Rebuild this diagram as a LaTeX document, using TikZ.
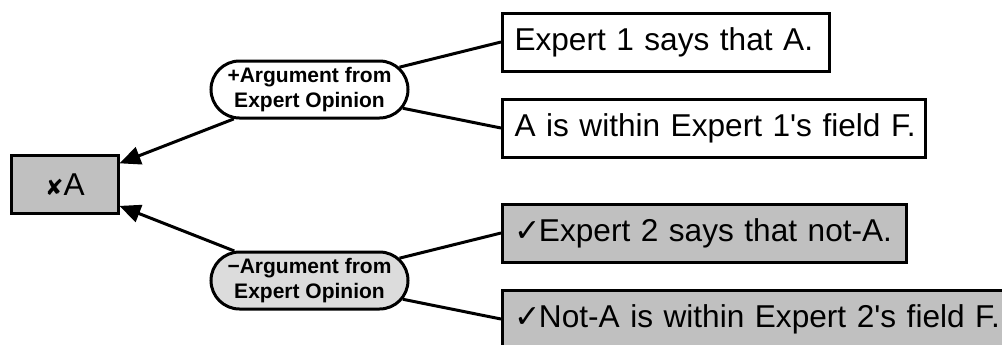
\documentclass[tikz,border=0pt]{standalone}
\usepackage{fontspec}
\setmainfont{Liberation Sans}[Ligatures=NoCommon]
\newfontfamily\symfont{DejaVu Sans}
\usetikzlibrary{shapes.misc,arrows.meta}
\definecolor{boxgray}{RGB}{192,192,192}
\definecolor{arggray}{RGB}{220,220,220}
\begin{document}
\begin{tikzpicture}[x=1bp,y=-1bp,
  claim/.style={rectangle, draw=black, line width=3bp, minimum height=58bp, inner xsep=12bp, inner ysep=0pt, align=left, anchor=west, font=\fontsize{31.6bp}{36bp}\selectfont},
  argnode/.style={rounded rectangle, draw=black, line width=3bp, minimum width=197bp, minimum height=57bp, inner sep=0pt, align=center, font=\bfseries\fontsize{21bp}{25bp}\selectfont},
  conn/.style={line width=3bp},
  arr/.style={conn, -{Triangle[length=21bp,width=18bp]}}
]
\useasboundingbox (0,0) rectangle (1002,344);
\node[claim, fill=boxgray, minimum width=106bp, align=center, anchor=center] (A) at (65,184.5) {{\symfont\fontsize{22bp}{22bp}\selectfont ✘}A};
\node[argnode, fill=white] (pro) at (309.5,89.5) {+Argument from\\Expert Opinion};
\node[argnode, fill=arggray] (con) at (309.5,280.5) {−Argument from\\Expert Opinion};
\node[claim, fill=white, minimum width=327bp, text width=303bp] (c1) at (501,42) {\mbox{Expert 1 says that A.}};
\node[claim, fill=white, minimum width=423bp, text width=399bp] (c2) at (501,128) {\mbox{A is within Expert 1\textquotesingle s field F.}};
\node[claim, fill=boxgray, minimum width=404bp, text width=380bp] (c3) at (501,233) {\mbox{{\symfont ✓}\kern-2bp Expert 2 says that not-A.}};
\node[claim, fill=boxgray, minimum width=520bp, text width=496bp] (c4) at (501,319) {\mbox{{\symfont ✓}\kern-2bp Not-A is within Expert 2\textquotesingle s field F.}};
\draw[arr] (pro) -- (A);
\draw[arr] (con) -- (A);
\draw[conn] (pro) -- (c1.west);
\draw[conn] (pro) -- (c2.west);
\draw[conn] (con) -- (c3.west);
\draw[conn] (con) -- (c4.west);
\end{tikzpicture}
\end{document}
